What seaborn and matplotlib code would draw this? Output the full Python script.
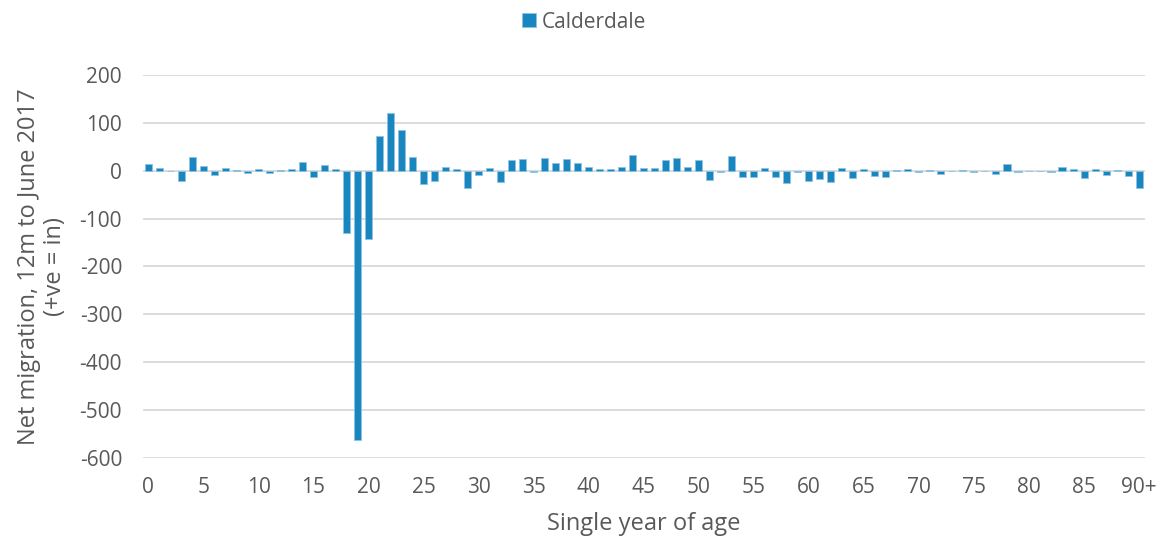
import numpy as np
import pandas as pd
import matplotlib
matplotlib.use("Agg")
import matplotlib.pyplot as plt
import seaborn as sns

# Ages 0..89 plus 90+
ages = [str(a) for a in range(90)] + ["90+"]

# Net migration by single year of age
net_migration = [
    15, 5, 0, -22, 29, 9, -8, 6, 1, -5,        # 0-9
    3, -5, 1, 3, 19, -13, 12, 3, -130, -562,   # 10-19
    -143, 73, 121, 84, 29, -27, -21, 7, 3, -36,  # 20-29
    -8, 6, -23, 22, 25, -3, 27, 17, 25, 17,    # 30-39
    8, 3, 3, 7, 33, 5, 6, 23, 26, 8,           # 40-49
    22, -20, -3, 31, -13, -13, 5, -14, -26, -3,  # 50-59
    -22, -18, -24, 5, -16, 3, -11, -13, 1, 3,  # 60-69
    -2, 1, -6, 0, 1, -2, 0, -7, 14, -2,        # 70-79
    0, 0, -2, 8, 4, -15, 3, -9, 1, -12,        # 80-89
    -36,                                       # 90+
]

tick_labels = ["0", "5", "10", "15", "20", "25", "30", "35", "40", "45",
               "50", "55", "60", "65", "70", "75", "80", "85", "90+"]

series_name = "Calderdale"

df = pd.DataFrame({"age": ages, "net": net_migration})

sns.set_theme(style="white")
plt.rcParams["font.family"] = ["Open Sans", "DejaVu Sans"]
plt.rcParams["axes.unicode_minus"] = False

grey = "#595959"
bar_col = "#1a86bf"

fig = plt.figure(figsize=(11.62, 5.38), dpi=100)
ax = fig.add_axes([0.123, 0.1487, 0.862, 0.712])

sns.barplot(data=df, x="age", y="net", order=ages, color=bar_col,
            width=0.64, edgecolor="#8cc4e4", linewidth=0.6,
            saturation=1, ax=ax, label=series_name, zorder=3)

ax.set_ylim(-600, 200)
ax.set_yticks(range(-600, 201, 100))
ax.set_xlim(-0.5, len(ages) - 0.5)
ax.set_xticks([ages.index(t) for t in tick_labels])
ax.set_xticklabels(tick_labels)

ax.grid(axis="y", color="#d9d9d9", linewidth=1.3, zorder=0)
ax.grid(axis="x", visible=False)
for s in ax.spines.values():
    s.set_visible(False)

ax.tick_params(axis="both", length=0, labelsize=15, colors=grey)
ax.tick_params(axis="x", pad=14)
ax.tick_params(axis="y", pad=15)
ax.set_xlabel("Single year of age", fontsize=17, color=grey, labelpad=10)
ax.set_ylabel("Net migration, 12m to June 2017\n(+ve = in)", fontsize=17,
              color=grey, labelpad=9, linespacing=1.1)

# legend centred on the figure, not the axes
handles, labels = ax.get_legend_handles_labels()
ax.legend_ = None
leg = fig.legend(handles, labels, loc="center", bbox_to_anchor=(0.503, 0.959),
                 frameon=False, fontsize=15, handlelength=0.65,
                 handleheight=0.65, handletextpad=0.3)
for t in leg.get_texts():
    t.set_color(grey)

fig.savefig("out.png", dpi=100)
